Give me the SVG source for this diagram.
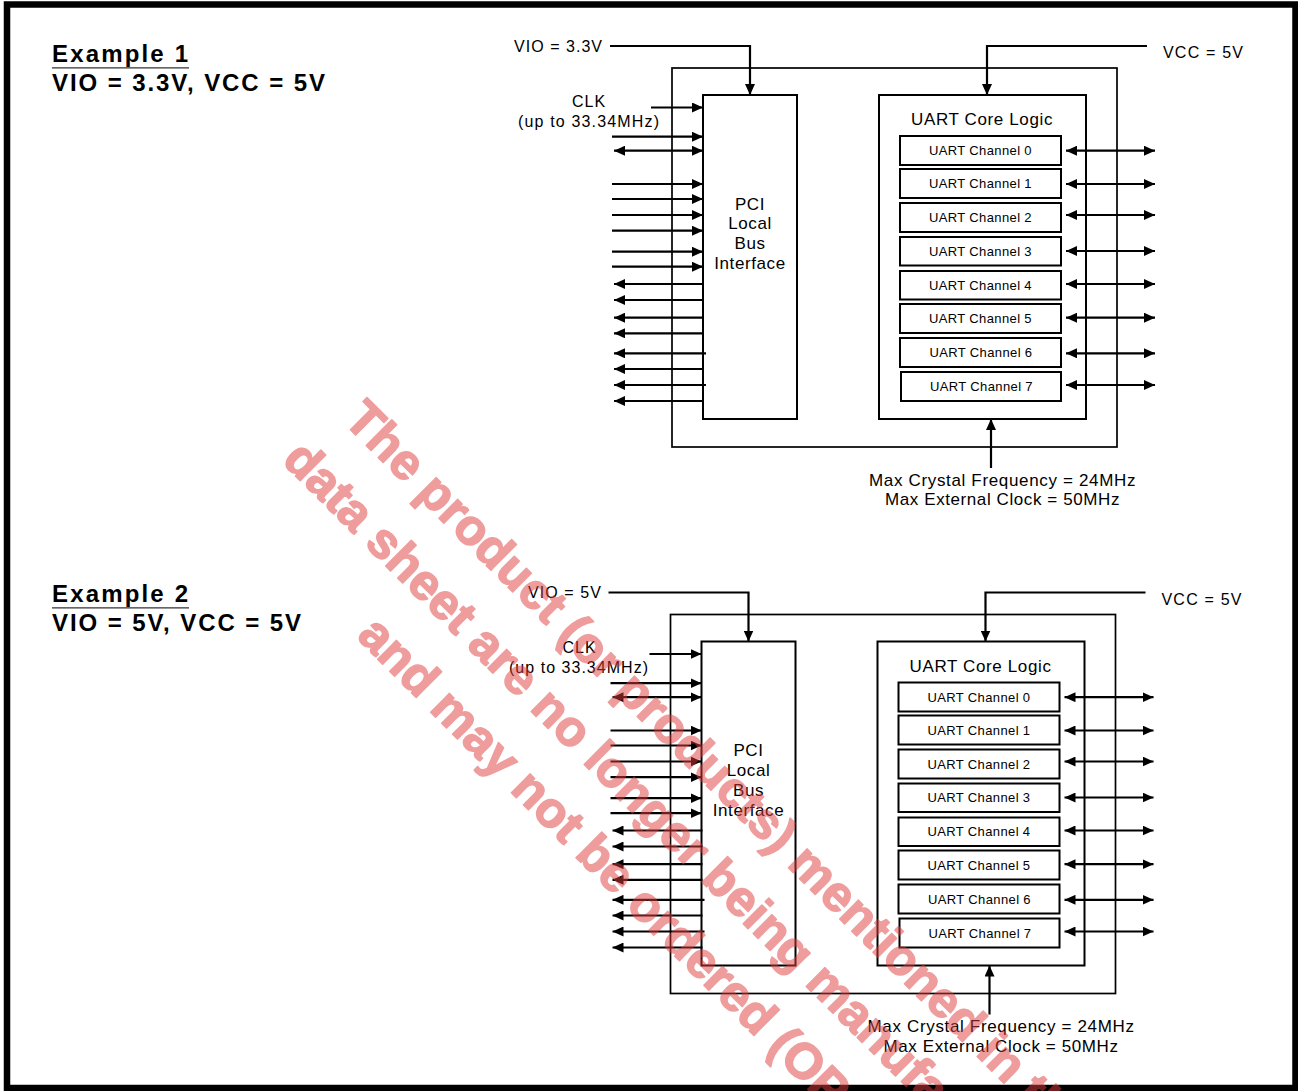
<svg xmlns="http://www.w3.org/2000/svg" width="1298" height="1091" viewBox="0 0 1298 1091">
<defs>
<marker id="ah" viewBox="0 0 11 10" refX="11" refY="5" markerWidth="11" markerHeight="10" markerUnits="userSpaceOnUse" orient="auto-start-reverse">
<path d="M0,0 L11,5 L0,10 z" fill="#000"/>
</marker>
</defs>
<style>
text{font-family:"Liberation Sans",Arial,sans-serif;fill:#000}
.lbl{font-size:16px;letter-spacing:1px}
.big{font-size:17px;letter-spacing:0.6px}
.ch{font-size:13px;letter-spacing:0.4px}
.title{font-size:24px;font-weight:bold}
.box{fill:#fff;stroke:#000;stroke-width:2}
.outer{fill:none;stroke:#000;stroke-width:1.7}
.conn line,.conn polyline{fill:none;stroke:#000;stroke-width:2.2}
.a1{marker-end:url(#ah)}
.a2{marker-start:url(#ah);marker-end:url(#ah)}
.wm text{font-family:"Liberation Sans",Arial,sans-serif;font-weight:bold;font-size:50px;fill:#e03c3c;stroke:#e03c3c;stroke-width:1.6;stroke-linejoin:round}
</style>
<rect x="0" y="0" width="1298" height="1091" fill="#fff"/>
<rect x="7" y="4.5" width="1288.5" height="1083.5" fill="none" stroke="#000" stroke-width="6.5"/>

<g id="example1">
<g id="title1">
<text class="title" x="52" y="61.5" textLength="136" lengthAdjust="spacing">Example 1</text>
<line x1="52" y1="67.8" x2="189" y2="67.8" stroke="#333" stroke-width="1.3"/>
<text class="title" x="52" y="90.7" textLength="273" lengthAdjust="spacing">VIO = 3.3V, VCC = 5V</text>
</g>
<g id="chip1"><rect class="outer" x="672" y="68" width="445" height="379"/></g>
<g id="pci1">
<rect class="box" x="703" y="95" width="94" height="324"/>
<text class="big" x="750" y="209.5" text-anchor="middle">PCI</text>
<text class="big" x="750" y="229" text-anchor="middle">Local</text>
<text class="big" x="750" y="249" text-anchor="middle">Bus</text>
<text class="big" x="750" y="269" text-anchor="middle">Interface</text>
</g>
<g id="uart1">
<rect class="box" x="879" y="95" width="207" height="324"/>
<text class="big" x="982" y="125" text-anchor="middle" textLength="142" lengthAdjust="spacing">UART Core Logic</text>
</g>
<g id="ch1_0"><rect class="box" x="900" y="136" width="161" height="29"/><text class="ch" x="980.5" y="155" text-anchor="middle" textLength="103" lengthAdjust="spacing">UART Channel 0</text></g>
<g id="ch1_1"><rect class="box" x="900" y="169" width="161" height="29"/><text class="ch" x="980.5" y="188" text-anchor="middle" textLength="103" lengthAdjust="spacing">UART Channel 1</text></g>
<g id="ch1_2"><rect class="box" x="900" y="203" width="161" height="29"/><text class="ch" x="980.5" y="222" text-anchor="middle" textLength="103" lengthAdjust="spacing">UART Channel 2</text></g>
<g id="ch1_3"><rect class="box" x="900" y="237" width="161" height="28.5"/><text class="ch" x="980.5" y="255.7" text-anchor="middle" textLength="103" lengthAdjust="spacing">UART Channel 3</text></g>
<g id="ch1_4"><rect class="box" x="900" y="271" width="161" height="28.5"/><text class="ch" x="980.5" y="289.5" text-anchor="middle" textLength="103" lengthAdjust="spacing">UART Channel 4</text></g>
<g id="ch1_5"><rect class="box" x="900" y="304" width="161" height="29"/><text class="ch" x="980.5" y="323" text-anchor="middle" textLength="103" lengthAdjust="spacing">UART Channel 5</text></g>
<g id="ch1_6"><rect class="box" x="900" y="338" width="161" height="29"/><text class="ch" x="981" y="357" text-anchor="middle" textLength="103" lengthAdjust="spacing">UART Channel 6</text></g>
<g id="ch1_7"><rect class="box" x="901" y="372" width="160" height="29"/><text class="ch" x="981.5" y="391" text-anchor="middle" textLength="103" lengthAdjust="spacing">UART Channel 7</text></g>
<g id="vio1"><text class="lbl" x="514" y="51.5" textLength="89" lengthAdjust="spacing">VIO = 3.3V</text></g>
<g id="vcc1"><text class="lbl" x="1163" y="58" textLength="81" lengthAdjust="spacing">VCC = 5V</text></g>
<g id="clk1">
<text class="lbl" x="589" y="106.5" text-anchor="middle">CLK</text>
<text class="lbl" x="589" y="126.7" text-anchor="middle" textLength="142" lengthAdjust="spacing">(up to 33.34MHz)</text>
</g>
<g id="xtal1">
<text class="big" x="1002.5" y="485.5" text-anchor="middle" textLength="267" lengthAdjust="spacing">Max Crystal Frequency = 24MHz</text>
<text class="big" x="1002.5" y="505" text-anchor="middle" textLength="235" lengthAdjust="spacing">Max External Clock = 50MHz</text>
</g>
</g>

<g id="connectors1" class="conn">
<polyline class="a1" points="610,46 750,46 750,95"/>
<polyline class="a1" points="1147,46 987,46 987,95"/>
<line class="a1" x1="651" y1="107.5" x2="703" y2="107.5"/>
<line class="a1" x1="612" y1="136.7" x2="703" y2="136.7"/>
<line class="a2" x1="614" y1="150.7" x2="703" y2="150.7"/>
<line class="a1" x1="612" y1="184" x2="703" y2="184"/>
<line class="a1" x1="612" y1="199" x2="703" y2="199"/>
<line class="a1" x1="612" y1="215" x2="703" y2="215"/>
<line class="a1" x1="612" y1="230.7" x2="703" y2="230.7"/>
<line class="a1" x1="612" y1="251.7" x2="703" y2="251.7"/>
<line class="a1" x1="612" y1="266.7" x2="703" y2="266.7"/>
<line class="a1" x1="704" y1="284" x2="614" y2="284"/>
<line class="a1" x1="704" y1="300" x2="614" y2="300"/>
<line class="a1" x1="704" y1="317.7" x2="614" y2="317.7"/>
<line class="a1" x1="704" y1="333.3" x2="614" y2="333.3"/>
<line class="a1" x1="706" y1="353.3" x2="614" y2="353.3"/>
<line class="a1" x1="704" y1="369" x2="614" y2="369"/>
<line class="a1" x1="706" y1="385" x2="614" y2="385"/>
<line class="a1" x1="704" y1="401" x2="614" y2="401"/>
<line class="a2" x1="1066" y1="150.7" x2="1155" y2="150.7"/>
<line class="a2" x1="1066" y1="184" x2="1155" y2="184"/>
<line class="a2" x1="1066" y1="215" x2="1155" y2="215"/>
<line class="a2" x1="1066" y1="251" x2="1155" y2="251"/>
<line class="a2" x1="1066" y1="284" x2="1155" y2="284"/>
<line class="a2" x1="1066" y1="317.7" x2="1155" y2="317.7"/>
<line class="a2" x1="1066" y1="353.3" x2="1155" y2="353.3"/>
<line class="a2" x1="1066" y1="385" x2="1155" y2="385"/>
<line class="a1" x1="991" y1="468" x2="991" y2="419"/>
</g>

<g id="example2">
<g id="title2">
<text class="title" x="52" y="601.5" textLength="136" lengthAdjust="spacing">Example 2</text>
<line x1="52" y1="607.8" x2="189" y2="607.8" stroke="#333" stroke-width="1.3"/>
<text class="title" x="52" y="630.7" textLength="249" lengthAdjust="spacing">VIO = 5V, VCC = 5V</text>
</g>
<g transform="translate(-1.5,546.5)">
<g id="chip2"><rect class="outer" x="672" y="68" width="445" height="379"/></g>
<g id="pci2">
<rect class="box" x="703" y="95" width="94" height="324"/>
<text class="big" x="750" y="209.5" text-anchor="middle">PCI</text>
<text class="big" x="750" y="229" text-anchor="middle">Local</text>
<text class="big" x="750" y="249" text-anchor="middle">Bus</text>
<text class="big" x="750" y="269" text-anchor="middle">Interface</text>
</g>
<g id="uart2">
<rect class="box" x="879" y="95" width="207" height="324"/>
<text class="big" x="982" y="125" text-anchor="middle" textLength="142" lengthAdjust="spacing">UART Core Logic</text>
</g>
<g id="ch2_0"><rect class="box" x="900" y="136" width="161" height="29"/><text class="ch" x="980.5" y="155" text-anchor="middle" textLength="103" lengthAdjust="spacing">UART Channel 0</text></g>
<g id="ch2_1"><rect class="box" x="900" y="169" width="161" height="29"/><text class="ch" x="980.5" y="188" text-anchor="middle" textLength="103" lengthAdjust="spacing">UART Channel 1</text></g>
<g id="ch2_2"><rect class="box" x="900" y="203" width="161" height="29"/><text class="ch" x="980.5" y="222" text-anchor="middle" textLength="103" lengthAdjust="spacing">UART Channel 2</text></g>
<g id="ch2_3"><rect class="box" x="900" y="237" width="161" height="28.5"/><text class="ch" x="980.5" y="255.7" text-anchor="middle" textLength="103" lengthAdjust="spacing">UART Channel 3</text></g>
<g id="ch2_4"><rect class="box" x="900" y="271" width="161" height="28.5"/><text class="ch" x="980.5" y="289.5" text-anchor="middle" textLength="103" lengthAdjust="spacing">UART Channel 4</text></g>
<g id="ch2_5"><rect class="box" x="900" y="304" width="161" height="29"/><text class="ch" x="980.5" y="323" text-anchor="middle" textLength="103" lengthAdjust="spacing">UART Channel 5</text></g>
<g id="ch2_6"><rect class="box" x="900" y="338" width="161" height="29"/><text class="ch" x="981" y="357" text-anchor="middle" textLength="103" lengthAdjust="spacing">UART Channel 6</text></g>
<g id="ch2_7"><rect class="box" x="901" y="372" width="160" height="29"/><text class="ch" x="981.5" y="391" text-anchor="middle" textLength="103" lengthAdjust="spacing">UART Channel 7</text></g>
<g id="vio2"><text class="lbl" x="529.5" y="51.5" textLength="74" lengthAdjust="spacing">VIO = 5V</text></g>
<g id="vcc2"><text class="lbl" x="1163" y="58" textLength="81" lengthAdjust="spacing">VCC = 5V</text></g>
<g id="clk2">
<text class="lbl" x="581" y="106.5" text-anchor="middle">CLK</text>
<text class="lbl" x="580.5" y="126.7" text-anchor="middle" textLength="140" lengthAdjust="spacing">(up to 33.34MHz)</text>
</g>
<g id="xtal2">
<text class="big" x="1002.5" y="485.5" text-anchor="middle" textLength="267" lengthAdjust="spacing">Max Crystal Frequency = 24MHz</text>
<text class="big" x="1002.5" y="505" text-anchor="middle" textLength="235" lengthAdjust="spacing">Max External Clock = 50MHz</text>
</g>
<g id="connectors2" class="conn">
<polyline class="a1" points="610,46 750,46 750,95"/>
<polyline class="a1" points="1147,46 987,46 987,95"/>
<line class="a1" x1="651" y1="107.5" x2="703" y2="107.5"/>
<line class="a1" x1="612" y1="136.7" x2="703" y2="136.7"/>
<line class="a2" x1="614" y1="150.7" x2="703" y2="150.7"/>
<line class="a1" x1="612" y1="184" x2="703" y2="184"/>
<line class="a1" x1="612" y1="199" x2="703" y2="199"/>
<line class="a1" x1="612" y1="215" x2="703" y2="215"/>
<line class="a1" x1="612" y1="230.7" x2="703" y2="230.7"/>
<line class="a1" x1="612" y1="251.7" x2="703" y2="251.7"/>
<line class="a1" x1="612" y1="266.7" x2="703" y2="266.7"/>
<line class="a1" x1="704" y1="284" x2="614" y2="284"/>
<line class="a1" x1="704" y1="300" x2="614" y2="300"/>
<line class="a1" x1="704" y1="317.7" x2="614" y2="317.7"/>
<line class="a1" x1="704" y1="333.3" x2="614" y2="333.3"/>
<line class="a1" x1="706" y1="353.3" x2="614" y2="353.3"/>
<line class="a1" x1="704" y1="369" x2="614" y2="369"/>
<line class="a1" x1="706" y1="385" x2="614" y2="385"/>
<line class="a1" x1="704" y1="401" x2="614" y2="401"/>
<line class="a2" x1="1066" y1="150.7" x2="1155" y2="150.7"/>
<line class="a2" x1="1066" y1="184" x2="1155" y2="184"/>
<line class="a2" x1="1066" y1="215" x2="1155" y2="215"/>
<line class="a2" x1="1066" y1="251" x2="1155" y2="251"/>
<line class="a2" x1="1066" y1="284" x2="1155" y2="284"/>
<line class="a2" x1="1066" y1="317.7" x2="1155" y2="317.7"/>
<line class="a2" x1="1066" y1="353.3" x2="1155" y2="353.3"/>
<line class="a2" x1="1066" y1="385" x2="1155" y2="385"/>
<line class="a1" x1="991" y1="468" x2="991" y2="419"/>
</g>
</g>
</g>

<g id="watermark" class="wm" opacity="0.5" transform="rotate(45)">
<text x="540" y="56">The product (or products) mentioned in this</text>
<text x="525" y="127.5">data sheet are no longer being manufactured</text>
<text x="702" y="199">and may not be ordered (OP</text>
</g>
</svg>
